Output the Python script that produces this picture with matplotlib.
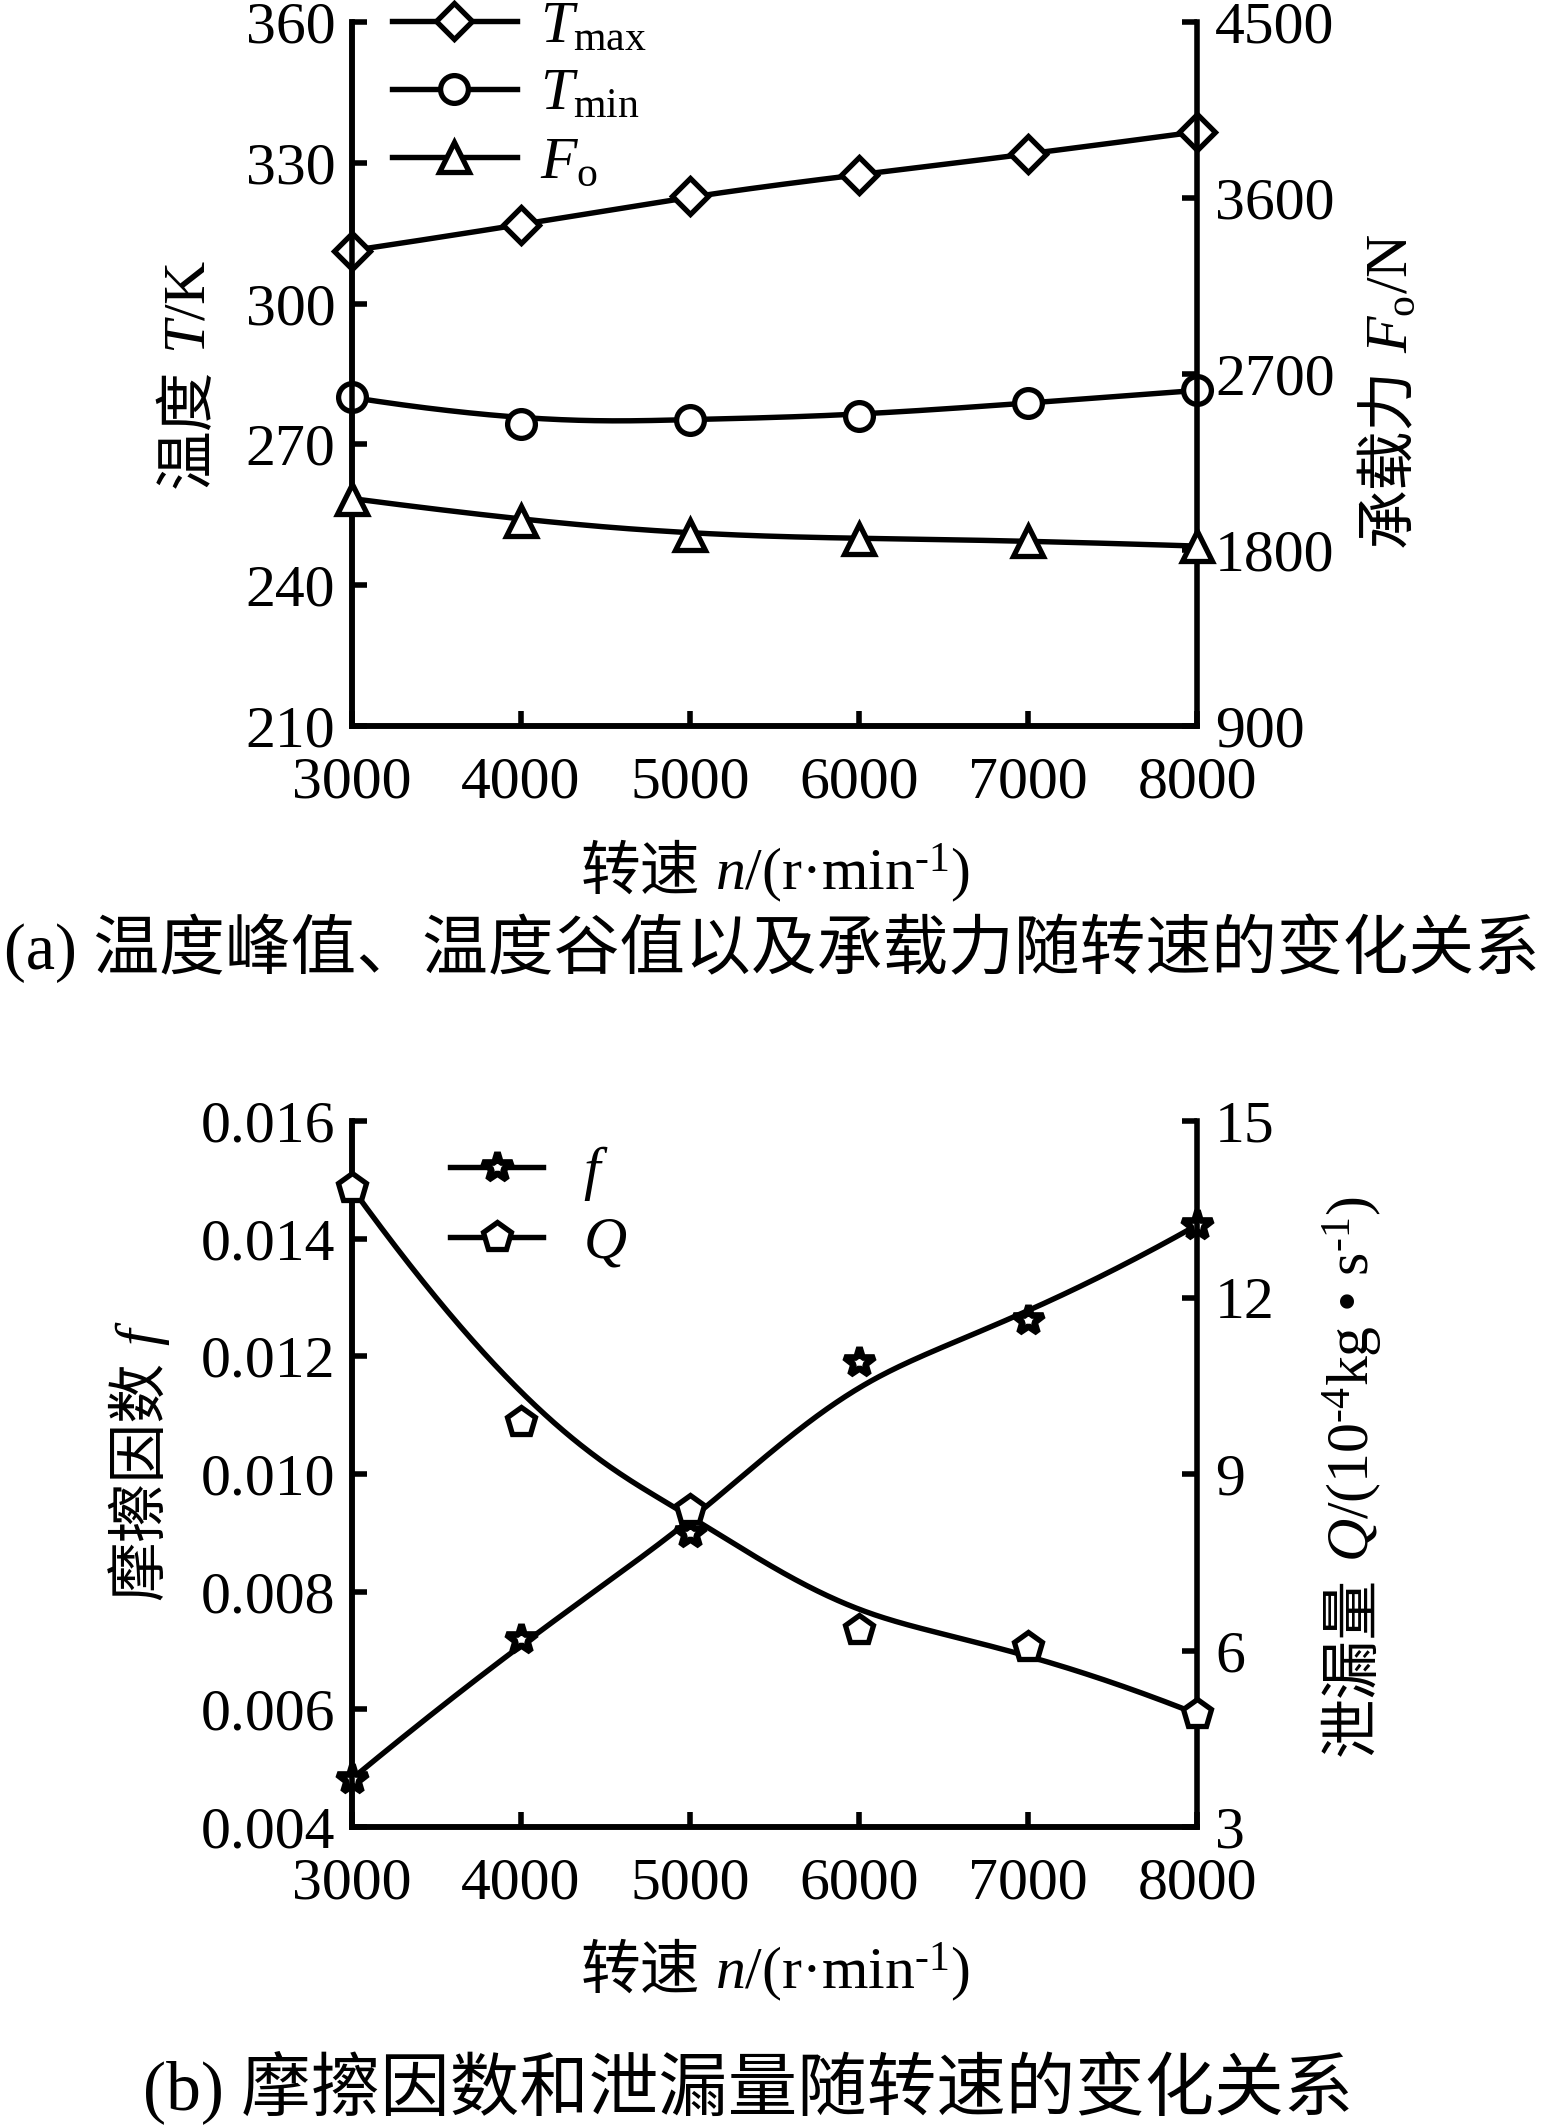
import numpy as np
import matplotlib
matplotlib.use('Agg')
import matplotlib.pyplot as plt
from matplotlib.lines import Line2D
from matplotlib.transforms import IdentityTransform
from matplotlib.ticker import FixedLocator, FormatStrFormatter

# ---------------- data ----------------
speed = [3000, 4000, 5000, 6000, 7000, 8000]
t_max = [311.3, 316.7, 323.0, 327.5, 331.8, 336.6]
t_min = [280.0, 274.4, 275.3, 276.1, 278.8, 281.5]
f_o = [2063, 1950, 1878, 1858, 1848, 1820]
fric = [0.00482, 0.00719, 0.00900, 0.01191, 0.01261, 0.01423]
leak = [13.86, 9.89, 8.38, 6.35, 6.06, 4.92]

x_ticks = [3000, 4000, 5000, 6000, 7000, 8000]
t_ticks = [210, 240, 270, 300, 330, 360]
fo_ticks = [900, 1800, 2700, 3600, 4500]
f_ticks = [0.004, 0.006, 0.008, 0.010, 0.012, 0.014, 0.016]
q_ticks = [3, 6, 9, 12, 15]

# ---------------- style ----------------
plt.rcParams['font.family'] = ['Liberation Serif', 'Noto Sans CJK SC']
plt.rcParams['mathtext.fontset'] = 'custom'
plt.rcParams['mathtext.rm'] = 'Liberation Serif'
plt.rcParams['mathtext.it'] = 'Liberation Serif:italic'
plt.rcParams['mathtext.bf'] = 'Liberation Serif:bold'
FAM = ['Liberation Serif', 'Noto Sans CJK SC']

W, H = 1545, 2128
fig = plt.figure(figsize=(W / 100, H / 100), dpi=100)

TICK_FS = 43
LAB_FS = 43
AX_LW = 4
LINE_LW = 3.9
MEW = 3.8


def bspline(xs, ys, k=3, num=400):
    P = np.column_stack([xs, ys]).astype(float)
    n = len(P)
    inner = np.arange(1, n - k)
    t = np.concatenate([np.zeros(k + 1), inner, np.full(k + 1, n - k)]).astype(float)
    u = np.linspace(0, n - k, num)
    m = len(t)
    N = np.zeros((m - 1, len(u)))
    for i in range(m - 1):
        N[i] = ((t[i] <= u) & (u < t[i + 1])).astype(float)
    last = np.where(t[:-1] < t[1:])[0][-1]
    N[last, u >= t[-1]] = 1.0
    for p in range(1, k + 1):
        Nn = np.zeros((m - 1 - p, len(u)))
        for i in range(m - 1 - p):
            d1 = t[i + p] - t[i]
            d2 = t[i + p + 1] - t[i + 1]
            a = (u - t[i]) / d1 * N[i] if d1 > 0 else 0
            b = (t[i + p + 1] - u) / d2 * N[i + 1] if d2 > 0 else 0
            Nn[i] = a + b
        N = Nn
    C = N.T @ P
    return C[:, 0], C[:, 1]


def style_axes(ax, axr):
    for a in (ax, axr):
        a.spines['top'].set_visible(False)
        for s in ('left', 'right', 'bottom'):
            a.spines[s].set_linewidth(AX_LW)
    ax.spines['right'].set_visible(False)
    ax.set_xlim(3000, 8000)
    ax.xaxis.set_major_locator(FixedLocator(x_ticks))
    ax.tick_params(axis='both', direction='in', length=11, width=AX_LW,
                   labelsize=TICK_FS, top=False, right=False)
    ax.tick_params(axis='x', pad=22)
    ax.tick_params(axis='y', pad=12)
    axr.tick_params(axis='y', direction='in', length=11, width=AX_LW,
                    labelsize=TICK_FS, pad=13)


def pieces_text(cx, cy, pieces, size, rotation=0, gap=0.25):
    r = fig.canvas.get_renderer()
    widths = []
    for s, fam in pieces:
        t = fig.text(0, 0, s, fontsize=size, family=fam)
        widths.append(t.get_window_extent(r).width)
        t.remove()
    em = size * fig.dpi / 72.0
    gpx = gap * em
    L = sum(widths) + gpx * (len(pieces) - 1)
    Y = H - cy
    pos = 0.0
    for (s, fam), w in zip(pieces, widths):
        if rotation == 0:
            fig.text(cx - L / 2 + pos, Y - 0.36 * em, s, fontsize=size, family=fam,
                     ha='left', va='baseline', transform=IdentityTransform())
        else:
            fig.text(cx + 0.36 * em, Y - L / 2 + pos, s, fontsize=size, family=fam,
                     ha='left', va='baseline', rotation=90, rotation_mode='anchor',
                     transform=IdentityTransform())
        pos += w + gpx


# ---------------- panel (a) ----------------
ax1 = fig.add_axes([352 / W, 1 - 726 / H, 845 / W, 704 / H])
ax1r = ax1.twinx()
style_axes(ax1, ax1r)
ax1.set_ylim(210, 360)
ax1.yaxis.set_major_locator(FixedLocator(t_ticks))
ax1r.set_ylim(900, 4500)
ax1r.yaxis.set_major_locator(FixedLocator(fo_ticks))

mk = dict(color='black', markerfacecolor='white', markeredgecolor='black',
          markeredgewidth=MEW, linestyle='none', zorder=4)
for axx, ys, m, ms in ((ax1, t_max, 'D', 18), (ax1, t_min, 'o', 20), (ax1r, f_o, '^', 21)):
    cx, cy = bspline(speed, ys)
    axx.plot(cx, cy, color='black', lw=LINE_LW, zorder=3, clip_on=False)
    axx.plot(speed, ys, marker=m, ms=ms, clip_on=False, **mk)

h1 = [Line2D([], [], color='black', lw=LINE_LW, marker='D', ms=18,
             markerfacecolor='white', markeredgewidth=MEW),
      Line2D([], [], color='black', lw=LINE_LW, marker='o', ms=20,
             markerfacecolor='white', markeredgewidth=MEW),
      Line2D([], [], color='black', lw=LINE_LW, marker='^', ms=21,
             markerfacecolor='white', markeredgewidth=MEW)]
leg1 = ax1r.legend(h1, [r'$T_{\mathrm{max}}$', r'$T_{\mathrm{min}}$', r'$F_{\mathrm{o}}$'],
                   loc='upper left', bbox_to_anchor=(392 / W, 1 - 0 / H),
                   bbox_transform=fig.transFigure, frameon=False, fontsize=43,
                   handlelength=2.09, handletextpad=0.39, labelspacing=0.22,
                   borderpad=0, borderaxespad=0)

# ---------------- panel (b) ----------------
ax2 = fig.add_axes([352 / W, 1 - 1827 / H, 845 / W, 706 / H])
ax2r = ax2.twinx()
style_axes(ax2, ax2r)
ax2.set_ylim(0.004, 0.016)
ax2.yaxis.set_major_locator(FixedLocator(f_ticks))
ax2.yaxis.set_major_formatter(FormatStrFormatter('%.3f'))
ax2r.set_ylim(3, 15)
ax2r.yaxis.set_major_locator(FixedLocator(q_ticks))

for axx, ys, m, ms, mew in ((ax2, fric, '*', 22, 4.8), (ax2r, leak, 'p', 21, MEW)):
    cx, cy = bspline(speed, ys)
    axx.plot(cx, cy, color='black', lw=LINE_LW, zorder=3, clip_on=False)
    mk2 = dict(mk)
    mk2['markeredgewidth'] = mew
    axx.plot(speed, ys, marker=m, ms=ms, clip_on=False, **mk2)

h2 = [Line2D([], [], color='black', lw=LINE_LW, marker='*', ms=22,
             markerfacecolor='white', markeredgewidth=4.8),
      Line2D([], [], color='black', lw=LINE_LW, marker='p', ms=21,
             markerfacecolor='white', markeredgewidth=MEW)]
leg2 = ax2r.legend(h2, [r'$f$', r'$Q$'],
                   loc='upper left', bbox_to_anchor=(450 / W, 1 - 1144 / H),
                   bbox_transform=fig.transFigure, frameon=False, fontsize=43,
                   handlelength=1.56, handletextpad=0.67, labelspacing=0.22,
                   borderpad=0, borderaxespad=0)

# ---------------- labels ----------------
xlab = [('转速', FAM), ('$n$/(r·min$^{\u2010 1}$)', 'Liberation Serif')]
pieces_text(775, 868, xlab, LAB_FS)
pieces_text(775, 1967, xlab, LAB_FS)
pieces_text(183, 374, [('温度', FAM), (r'$T$/K', 'Liberation Serif')], LAB_FS, rotation=90)
pieces_text(1385, 390, [('承载力', FAM), (r'$F_{\mathrm{o}}$/N', 'Liberation Serif')], LAB_FS, rotation=90)
pieces_text(136, 1460, [('摩擦因数', FAM), (r'$f$', 'Liberation Serif')], LAB_FS, rotation=90)
pieces_text(1348, 1476, [('泄漏量', FAM),
                         ('$Q$/(10$^{\u20104}$kg • s$^{\u20101}$)', 'Liberation Serif')],
            LAB_FS, rotation=90)

fig.text(772 / W, 1 - 948 / H, '(a) 温度峰值、温度谷值以及承载力随转速的变化关系',
         fontsize=47.3, family=FAM, ha='center', va='center')
fig.text(748 / W, 1 - 2087 / H, '(b) 摩擦因数和泄漏量随转速的变化关系',
         fontsize=50, family=FAM, ha='center', va='center')

fig.savefig('out.png', dpi=100)
